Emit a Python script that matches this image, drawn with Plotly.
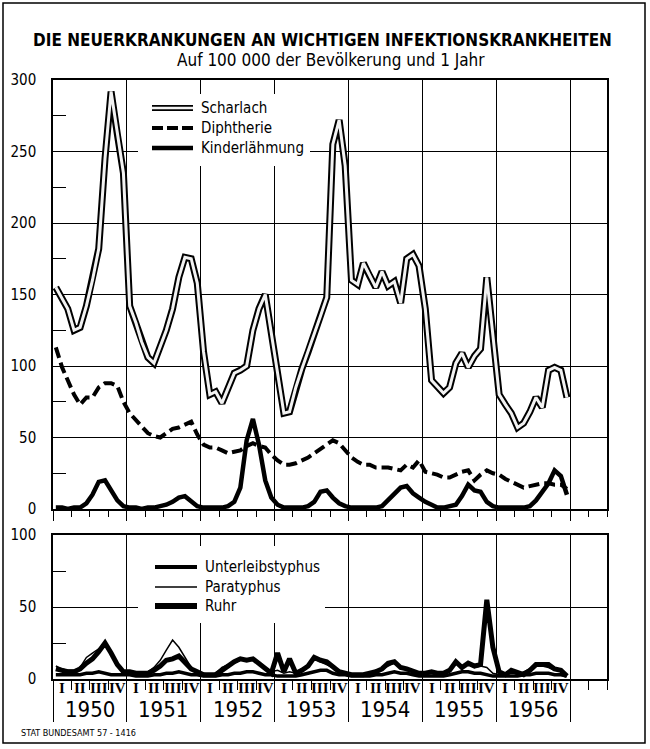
import pandas as pd
import plotly.graph_objects as go

W, H = 650, 749
FONT = "DejaVu Sans Condensed, Liberation Sans Narrow, Roboto Condensed, Roboto, sans-serif"

# monthly rates per 100 000 population, Jan 1950 .. Dec 1956
scharlach = [
    155, 147, 140, 125, 127, 142, 160, 182, 245, 292, 262, 235,
    142, 130, 117, 106, 102, 113, 125, 140, 162, 176, 175, 158,
    110, 80, 82, 74, 85, 95, 97, 100, 125, 140, 150, 123,
    95, 67, 68, 85, 98, 110, 123, 135, 148, 255, 272, 240,
    160, 157, 172, 163, 155, 166, 156, 159, 144, 175, 178, 170,
    140, 90, 86, 81, 85, 102, 109, 99, 107, 112, 162, 122,
    80, 73, 67, 57, 60, 68, 78, 71, 97, 99, 97, 78,
]
diphtherie = [
    113, 99, 90, 80, 73, 78, 78, 85, 88, 88, 86, 75,
    67, 62, 57, 53, 51, 50, 53, 56, 57, 59, 61, 52,
    45, 43, 43, 41, 39, 40, 41, 44, 46, 44, 43, 38,
    34, 31, 31, 32, 34, 36, 39, 42, 45, 48, 46, 41,
    36, 33, 31, 31, 29, 29, 29, 28, 27, 31, 29, 34,
    26, 25, 24, 22, 22, 24, 26, 27, 20, 24, 27, 25,
    24, 21, 19, 17, 15, 16, 17, 18, 18, 17, 17, 14,
]
kinderlaehmung = [
    1, 1, 0, 1, 1, 4, 10, 19, 20, 13, 6, 2,
    1, 1, 0, 1, 1, 2, 3, 5, 8, 9, 5, 2,
    1, 1, 1, 1, 2, 5, 15, 48, 63, 45, 20, 8,
    3, 1, 1, 1, 1, 2, 5, 12, 13, 8, 4, 2,
    1, 1, 1, 1, 1, 2, 6, 11, 15, 16, 11, 8,
    5, 3, 1, 1, 2, 3, 9, 17, 13, 12, 5, 2,
    1, 1, 1, 1, 1, 2, 6, 12, 18, 27, 23, 10,
]
typhus = [
    3, 3, 3, 3, 3, 4, 4, 5, 4, 3, 3, 3,
    3, 2, 2, 2, 3, 3, 4, 4, 5, 4, 3, 3,
    2, 2, 2, 3, 3, 4, 4, 5, 5, 4, 3, 3,
    2, 2, 2, 2, 3, 4, 5, 6, 6, 4, 3, 3,
    2, 2, 2, 2, 3, 3, 4, 5, 4, 4, 3, 2,
    2, 2, 2, 2, 3, 4, 5, 5, 4, 4, 3, 2,
    2, 2, 2, 2, 3, 3, 4, 4, 4, 3, 3, 2,
]
paratyphus = [
    9, 7, 6, 6, 8, 15, 18, 21, 25, 19, 11, 6,
    5, 4, 4, 5, 8, 13, 20, 27, 22, 15, 8, 5,
    4, 3, 4, 8, 10, 11, 13, 14, 13, 12, 8, 5,
    6, 4, 5, 4, 6, 10, 14, 12, 10, 8, 5, 4,
    3, 3, 3, 4, 6, 7, 9, 11, 8, 7, 5, 4,
    4, 4, 3, 4, 7, 11, 8, 10, 8, 9, 8, 4,
    3, 4, 5, 3, 5, 7, 9, 9, 8, 6, 6, 3,
]
ruhr = [
    7, 6, 5, 5, 7, 11, 14, 19, 25, 18, 10, 5,
    5, 4, 4, 4, 6, 9, 13, 14, 16, 12, 7, 5,
    3, 3, 3, 6, 9, 12, 14, 13, 14, 11, 7, 4,
    18, 5, 14, 4, 6, 9, 15, 13, 12, 8, 5, 4,
    3, 3, 3, 4, 5, 7, 11, 12, 8, 7, 5, 4,
    4, 5, 4, 4, 6, 12, 8, 11, 9, 10, 55, 22,
    5, 3, 6, 4, 3, 6, 10, 10, 10, 7, 6, 2,
]
years = [1950, 1951, 1952, 1953, 1954, 1955, 1956]
quarters = ["I", "II", "III", "IV"]

months = pd.date_range("1950-01-01", periods=len(scharlach), freq="MS") + pd.Timedelta(days=14)
quarter_mid = pd.date_range("1950-01-01", periods=4 * len(years), freq="QS") + pd.Timedelta(days=45)
year_mid = pd.to_datetime([f"{y}-07-01" for y in years])


def px(x, y):
    return x / W, 1 - y / H


fig = go.Figure()

# upper panel
fig.add_trace(go.Scatter(x=months, y=scharlach, mode="lines", line=dict(color="black", width=7), xaxis="x", yaxis="y"))
fig.add_trace(go.Scatter(x=months, y=scharlach, mode="lines", line=dict(color="#f2f2f2", width=3), xaxis="x", yaxis="y"))
fig.add_trace(go.Scatter(x=months, y=diphtherie, mode="lines", line=dict(color="black", width=4, dash="11px,5px"), xaxis="x", yaxis="y"))
fig.add_trace(go.Scatter(x=months, y=kinderlaehmung, mode="lines", line=dict(color="black", width=4.5), xaxis="x", yaxis="y"))

# lower panel
fig.add_trace(go.Scatter(x=months, y=ruhr, mode="lines", line=dict(color="black", width=5), xaxis="x2", yaxis="y2"))
fig.add_trace(go.Scatter(x=months, y=typhus, mode="lines", line=dict(color="black", width=3.5), xaxis="x2", yaxis="y2"))
fig.add_trace(go.Scatter(x=months, y=paratyphus, mode="lines", line=dict(color="black", width=1.5), xaxis="x2", yaxis="y2"))

xdom = [53 / W, 607 / W]
top_dom = [1 - 509 / H, 1 - 80 / H]
bot_dom = [1 - 679 / H, 1 - 535 / H]
xrange = ["1950-01-01", "1957-07-01"]


def x_axis(anchor, year_len, q_len):
    return dict(
        domain=xdom, anchor=anchor, type="date", range=xrange, automargin=False,
        tickmode="linear", tick0="1950-01-01", dtick="M12",
        showgrid=True, gridcolor="black", gridwidth=1.3,
        ticks="outside", ticklen=year_len, tickwidth=1.3, tickcolor="black",
        showticklabels=False, showline=True, linecolor="black", linewidth=1.5, mirror=True,
        minor=dict(tick0="1950-01-01", dtick="M3", ticks="outside", ticklen=q_len,
                   tickwidth=1.2, tickcolor="black", showgrid=False),
    )


def y_axis(dom, anchor, top, side="left", overlay=None):
    ax = dict(
        range=[0, top], tickvals=list(range(0, top + 1, 50)), anchor=anchor,
        ticks="", zeroline=False, side=side, automargin=False,
        tickfont=dict(family=FONT, size=15, color="black"),
        ticklabelstandoff=12 if side == "left" else 7,
        minor=dict(tick0=25, dtick=50, ticks="inside", ticklen=13, tickwidth=1.3,
                   tickcolor="black", showgrid=False),
    )
    if overlay:
        ax.update(overlaying=overlay, showgrid=False, showline=False)
    else:
        ax.update(domain=dom, showgrid=True, gridcolor="black", gridwidth=1.1,
                  showline=True, linecolor="black", linewidth=1.5, mirror=True)
    return ax


fig.update_layout(
    width=W, height=H, margin=dict(l=0, r=0, t=0, b=0, autoexpand=False),
    paper_bgcolor="white", plot_bgcolor="white", showlegend=False,
    xaxis=x_axis("y", 10, 6),
    xaxis2=x_axis("y2", 41, 9),
    yaxis=y_axis(top_dom, "x", 300),
    yaxis3=y_axis(top_dom, "x", 300, side="right", overlay="y"),
    yaxis2=y_axis(bot_dom, "x2", 100),
    yaxis4=y_axis(bot_dom, "x2", 100, side="right", overlay="y2"),
)

shapes = []
annotations = []

# frame
x0, y0 = px(3, 3)
x1, y1 = px(645, 743)
shapes.append(dict(type="rect", xref="paper", yref="paper", x0=x0, y0=y1, x1=x1, y1=y0,
                   line=dict(color="black", width=1.5)))

# legend boxes (white, over the grid)
for (bx0, by0, bx1, by1) in [(138, 94, 310, 166), (138, 546, 325, 623)]:
    a, b = px(bx0, by0)
    c, d = px(bx1, by1)
    shapes.append(dict(type="rect", xref="paper", yref="paper", x0=a, y0=d, x1=c, y1=b,
                       fillcolor="white", line=dict(width=0), layer="above"))


def text(x, y, s, size, family=FONT, xref="paper", xanchor="center"):
    annotations.append(dict(xref=xref, yref="paper", x=x, y=y, text=s, showarrow=False,
                            xanchor=xanchor, yanchor="middle",
                            font=dict(family=family, size=size, color="black")))


def legend_row(yp, label, styles, xs=(152, 193), xt=199):
    a, b = px(xs[0], yp)
    c, _ = px(xs[1], yp)
    for st in styles:
        shapes.append(dict(type="line", xref="paper", yref="paper", x0=a, y0=b, x1=c, y1=b,
                           line=st, layer="above"))
    t, _ = px(xt, yp)
    text(t, b, label, 15, xanchor="left")


legend_row(108, "Scharlach", [dict(color="black", width=6), dict(color="#f2f2f2", width=2.5)])
legend_row(128, "Diphtherie", [dict(color="black", width=4, dash="11px,4px")])
legend_row(148, "Kinderlähmung", [dict(color="black", width=4.5)])
legend_row(567, "Unterleibstyphus", [dict(color="black", width=4)], xs=(155, 197), xt=203)
legend_row(587, "Paratyphus", [dict(color="black", width=1.5)], xs=(155, 197), xt=203)
legend_row(606, "Ruhr", [dict(color="black", width=6)], xs=(155, 197), xt=203)

# quarter and year labels
_, qy = px(0, 688)
for d, q in zip(quarter_mid, quarters * len(years)):
    text(d, qy, f"<b>{q}</b>", 15, family="Liberation Serif, DejaVu Serif, serif", xref="x2")
_, yy = px(0, 709)
for d, yr in zip(year_mid, years):
    text(d, yy, str(yr), 22, xref="x2")

# titles and footer
text(*px(322, 40), "<b>DIE NEUERKRANKUNGEN AN WICHTIGEN INFEKTIONSKRANKHEITEN</b>", 17)
text(*px(331, 60), "Auf 100 000 der Bevölkerung und 1 Jahr", 17)
text(*px(19, 733), "STAT BUNDESAMT 57 - 1416", 9, xanchor="left")

fig.update_layout(shapes=shapes, annotations=annotations)
fig.write_html(
    "out.html",
    config={"displayModeBar": False},
    post_script="document.body.style.margin='0';document.body.style.overflow='hidden';",
)
